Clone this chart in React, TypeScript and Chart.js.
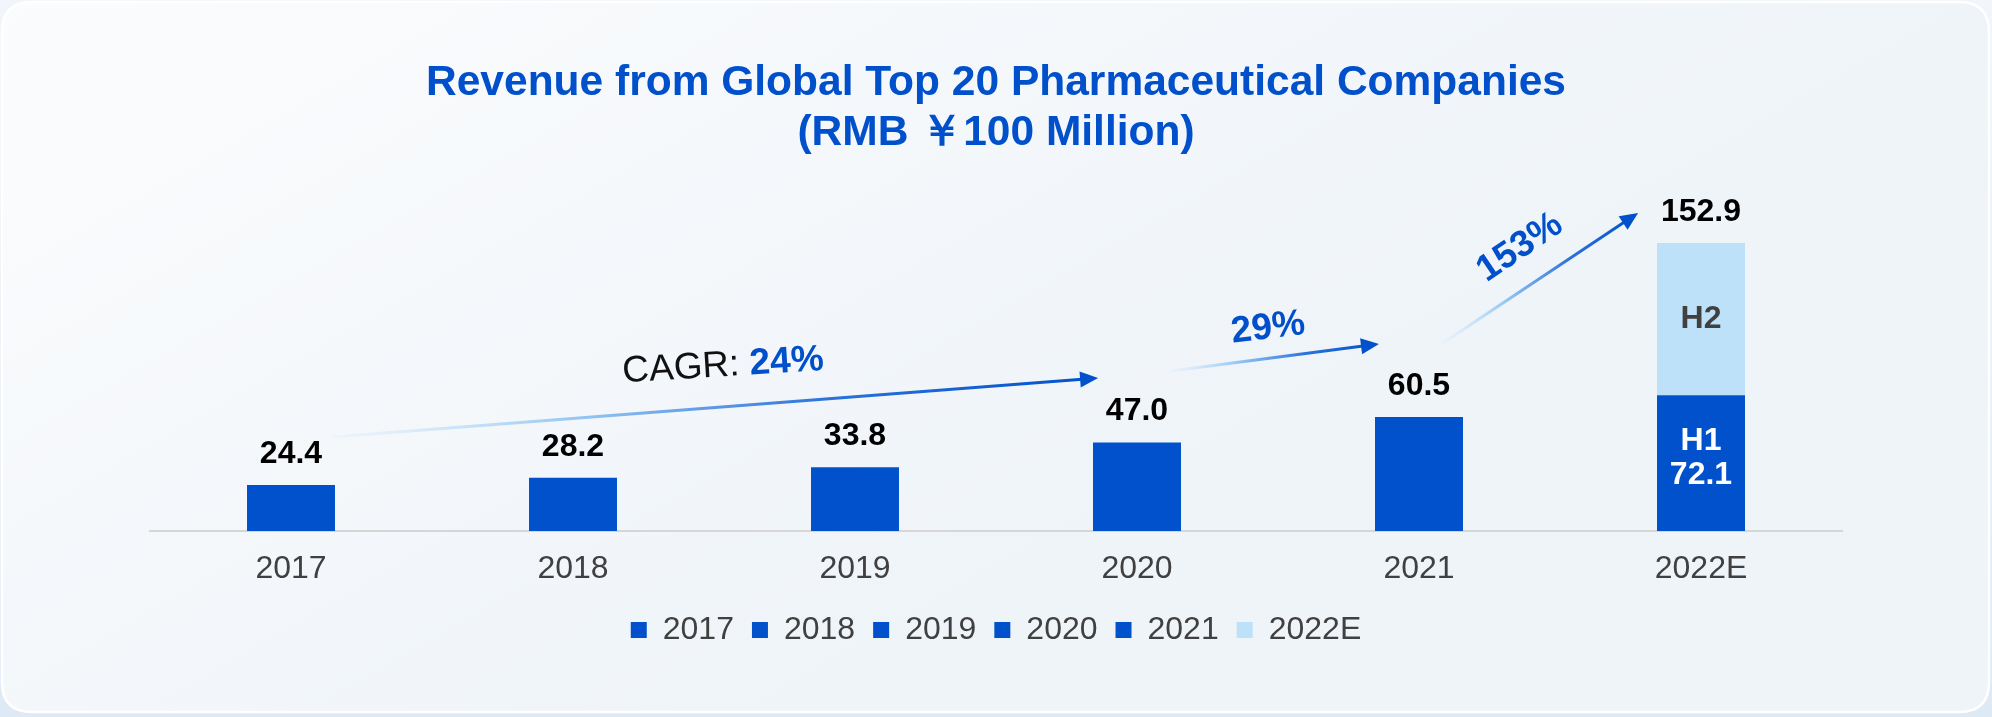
import React, { useEffect, useRef } from 'react';
import { Chart, registerables } from 'chart.js';

Chart.register(...registerables);

const FONT = '"Liberation Sans", Arial, Helvetica, sans-serif';

// ---------- data ----------
const categories = ['2017', '2018', '2019', '2020', '2021', '2022E'];
const totalValues = [24.4, 28.2, 33.8, 47.0, 60.5, 152.9];
const baseValues = [24.4, 28.2, 33.8, 47.0, 60.5, 72.1]; // 2022E: H1
const h2Values = [null, null, null, null, null, 80.8]; // 2022E: H2
const legendColorsByCategory = ['dark', 'dark', 'dark', 'dark', 'dark', 'light'];
const titleLines = ['Revenue from Global Top 20 Pharmaceutical Companies', '(RMB \uFFE5100 Million)'];
const growthLabels = ['24%', '29%', '153%'];

// ---------- styles ----------
const DARK = '#0051CB';
const LIGHT = '#BEE1FA';
const TITLE_BLUE = '#0050CB';
const GRAY = '#404040';

// annotation anchors in data space: [category index, value]
const arrowAnchors = [
  { from: [0.145, 49.9], to: [2.862, 81.2] },
  { from: [3.121, 84.9], to: [3.858, 99.3] },
  { from: [4.085, 99.8], to: [4.777, 168.8] },
];
const growthTextAnchors = [
  { at: [1.532, 87.6], rot: -3.5, prefix: 'CAGR: ' },
  { at: [3.465, 107.7], rot: -7, prefix: '' },
  { at: [4.358, 150.4], rot: -34, prefix: '' },
];

const backgroundPlugin = {
  id: 'cardBackground',
  beforeDraw(chart: any) {
    const { ctx, width, height } = chart;
    ctx.save();
    const outer = ctx.createLinearGradient(0, 0, 0, height);
    outer.addColorStop(0, '#F2F6FA');
    outer.addColorStop(1, '#DDEAF6');
    ctx.fillStyle = outer;
    ctx.fillRect(0, 0, width, height);

    const x0 = 2, y0 = 2, x1 = width - 3, y1 = height - 5, r = 30;
    ctx.beginPath();
    ctx.moveTo(x0 + r, y0);
    ctx.lineTo(x1 - r, y0);
    ctx.quadraticCurveTo(x1, y0, x1, y0 + r);
    ctx.lineTo(x1, y1 - r);
    ctx.quadraticCurveTo(x1, y1, x1 - r, y1);
    ctx.lineTo(x0 + r, y1);
    ctx.quadraticCurveTo(x0, y1, x0, y1 - r);
    ctx.lineTo(x0, y0 + r);
    ctx.quadraticCurveTo(x0, y0, x0 + r, y0);
    ctx.closePath();
    const card = ctx.createLinearGradient(0, 0, width * 0.25, height * 1.2);
    card.addColorStop(0, '#FBFCFD');
    card.addColorStop(1, '#EFF4F9');
    ctx.fillStyle = card;
    ctx.fill();
    ctx.lineWidth = 2.5;
    ctx.strokeStyle = '#FFFFFF';
    ctx.stroke();
    ctx.restore();
  },
};

const annotationPlugin = {
  id: 'annotations',
  afterDatasetsDraw(chart: any) {
    const { ctx } = chart;
    const xs = chart.scales.x;
    const ys = chart.scales.y;
    ctx.save();

    // value labels above stacks
    ctx.textAlign = 'center';
    ctx.textBaseline = 'middle';
    ctx.fillStyle = '#000000';
    ctx.font = `bold 32px ${FONT}`;
    totalValues.forEach((v, i) => {
      const px = xs.getPixelForValue(i);
      const py = ys.getPixelForValue(v);
      ctx.fillText(v.toFixed(1), px, py - 31);
    });

    // segment labels for 2022E
    const last = categories.length - 1;
    const h1 = chart.getDatasetMeta(0).data[last];
    const h2 = chart.getDatasetMeta(1).data[last];
    if (h1) {
      const mid = (h1.y + h1.base) / 2 - 5;
      ctx.fillStyle = '#FFFFFF';
      ctx.fillText('H1', h1.x, mid - 17);
      ctx.fillText(baseValues[last].toFixed(1), h1.x, mid + 17);
    }
    if (h2) {
      const mid = (h2.y + h2.base) / 2;
      ctx.fillStyle = GRAY;
      ctx.fillText('H2', h2.x, mid);
    }

    // arrows
    arrowAnchors.forEach((a) => {
      const sx = xs.getPixelForValue(a.from[0]);
      const sy = ys.getPixelForValue(a.from[1]);
      const ex = xs.getPixelForValue(a.to[0]);
      const ey = ys.getPixelForValue(a.to[1]);
      const ang = Math.atan2(ey - sy, ex - sx);
      const headLen = 18;
      const headHalf = 8;
      const bx = ex - Math.cos(ang) * headLen;
      const by = ey - Math.sin(ang) * headLen;
      const grad = ctx.createLinearGradient(sx, sy, ex, ey);
      grad.addColorStop(0, 'rgba(200,228,252,0.15)');
      grad.addColorStop(0.3, '#9CCBF4');
      grad.addColorStop(0.65, '#2B72DA');
      grad.addColorStop(1, DARK);
      ctx.strokeStyle = grad;
      ctx.lineWidth = 3;
      ctx.lineCap = 'butt';
      ctx.beginPath();
      ctx.moveTo(sx, sy);
      ctx.lineTo(bx + Math.cos(ang) * 2, by + Math.sin(ang) * 2);
      ctx.stroke();
      ctx.fillStyle = DARK;
      ctx.beginPath();
      ctx.moveTo(ex, ey);
      ctx.lineTo(bx - Math.sin(ang) * headHalf, by + Math.cos(ang) * headHalf);
      ctx.lineTo(bx + Math.sin(ang) * headHalf, by - Math.cos(ang) * headHalf);
      ctx.closePath();
      ctx.fill();
    });

    // growth texts
    growthTextAnchors.forEach((t, i) => {
      const cx = xs.getPixelForValue(t.at[0]);
      const cy = ys.getPixelForValue(t.at[1]);
      ctx.save();
      ctx.translate(cx, cy);
      ctx.rotate((t.rot * Math.PI) / 180);
      ctx.textBaseline = 'middle';
      ctx.textAlign = 'left';
      const size = 37;
      ctx.font = `${size}px ${FONT}`;
      const pw = t.prefix ? ctx.measureText(t.prefix).width : 0;
      ctx.font = `bold ${size}px ${FONT}`;
      const vw = ctx.measureText(growthLabels[i]).width;
      const start = -(pw + vw) / 2;
      if (t.prefix) {
        ctx.font = `${size}px ${FONT}`;
        ctx.fillStyle = '#111111';
        ctx.fillText(t.prefix, start, 0);
      }
      ctx.font = `bold ${size}px ${FONT}`;
      ctx.fillStyle = TITLE_BLUE;
      ctx.fillText(growthLabels[i], start + pw, 0);
      ctx.restore();
    });

    ctx.restore();
  },
};

export default function App() {
  const canvasRef = useRef<HTMLCanvasElement | null>(null);

  useEffect(() => {
    document.body.style.margin = '0';
    const canvas = canvasRef.current;
    if (!canvas) return;

    const chart = new Chart(canvas, {
      type: 'bar',
      data: {
        labels: categories,
        datasets: [
          {
            label: 'H1',
            data: baseValues,
            backgroundColor: DARK,
            borderWidth: 0,
            stack: 's',
          },
          {
            label: 'H2',
            data: h2Values as any,
            backgroundColor: LIGHT,
            borderWidth: 0,
            stack: 's',
          },
        ],
      },
      options: {
        responsive: true,
        maintainAspectRatio: false,
        animation: false,
        devicePixelRatio: 1,
        layout: { padding: { left: 150, right: 150, top: 0, bottom: 61 } },
        datasets: {
          bar: { categoryPercentage: 1, barPercentage: 0.312 },
        },
        scales: {
          x: {
            stacked: true,
            grid: { display: false, drawTicks: false },
            border: { display: true, color: '#D6D6D6', width: 2 },
            ticks: {
              color: GRAY,
              padding: 19,
              font: { family: FONT, size: 32, lineHeight: 1.2 },
            },
            afterFit: (scale: any) => {
              scale.height = 65;
            },
          },
          y: {
            stacked: true,
            display: false,
            min: 0,
            max: 175.7,
          },
        },
        plugins: {
          tooltip: { enabled: false },
          title: {
            display: true,
            text: titleLines,
            color: TITLE_BLUE,
            font: { family: FONT, size: 42.5, weight: 'bold', lineHeight: 50 / 42.5 },
            padding: { top: 58, bottom: 42 },
          },
          legend: {
            display: true,
            position: 'bottom',
            labels: {
              boxWidth: 16,
              boxHeight: 16,
              padding: 18,
              color: GRAY,
              font: { family: FONT, size: 32 },
              generateLabels: () =>
                categories.map((c, i) => ({
                  text: c,
                  fillStyle: legendColorsByCategory[i] === 'dark' ? DARK : LIGHT,
                  strokeStyle: 'rgba(0,0,0,0)',
                  lineWidth: 0,
                  hidden: false,
                  index: i,
                  fontColor: GRAY,
                })),
            },
            onClick: () => {},
          },
        },
      },
      plugins: [backgroundPlugin, annotationPlugin],
    });

    return () => chart.destroy();
  }, []);

  return (
    <div style={{ width: '1992px', height: '717px', position: 'relative' }}>
      <canvas ref={canvasRef} />
    </div>
  );
}
